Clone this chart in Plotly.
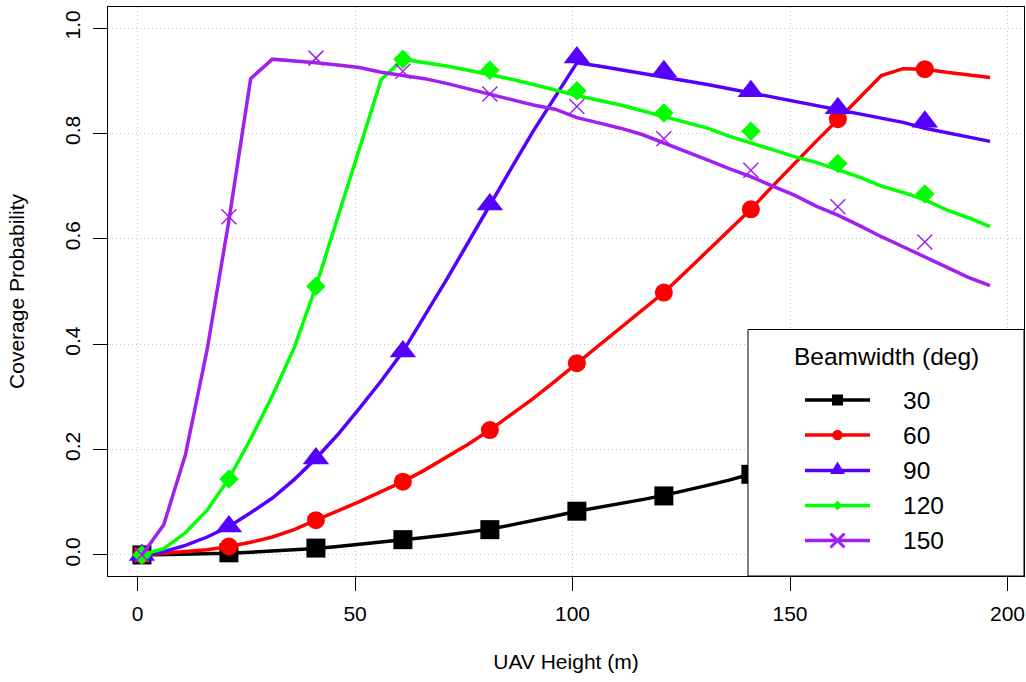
import plotly.graph_objects as go

# Heights (m) of the analytical curves and of the simulated points
height_line = [1, 6, 11, 16, 21, 26, 31, 36, 41, 46,
               51, 56, 61, 66, 71, 76, 81, 86, 91, 96,
               101, 106, 111, 116, 121, 126, 131, 136, 141, 146,
               151, 156, 161, 166, 171, 176, 181, 186, 191, 196]
height_pts = [1, 21, 41, 61, 81, 101, 121, 141, 161, 181]

# Analytical coverage probability per beamwidth
cov_30 = [0.000, 0.0005, 0.001, 0.002, 0.003, 0.005, 0.007, 0.009, 0.012, 0.016,
          0.020, 0.024, 0.029, 0.033, 0.038, 0.043, 0.049, 0.057, 0.065, 0.074,
          0.083, 0.090, 0.097, 0.105, 0.113, 0.122, 0.132, 0.142, 0.153, 0.165,
          0.177, 0.190, 0.203, 0.217, 0.231, 0.246, 0.261, 0.277, 0.293, 0.310]
cov_60 = [0.000, 0.003, 0.006, 0.010, 0.016, 0.024, 0.034, 0.048, 0.066, 0.083,
          0.101, 0.120, 0.139, 0.161, 0.185, 0.210, 0.237, 0.266, 0.297, 0.330,
          0.364, 0.396, 0.430, 0.464, 0.498, 0.537, 0.577, 0.616, 0.656, 0.700,
          0.743, 0.785, 0.826, 0.868, 0.910, 0.923, 0.922, 0.916, 0.911, 0.906]
cov_90 = [0.000, 0.006, 0.018, 0.034, 0.054, 0.080, 0.108, 0.143, 0.183, 0.228,
          0.278, 0.330, 0.386, 0.453, 0.522, 0.593, 0.665, 0.735, 0.805, 0.870,
          0.934, 0.928, 0.921, 0.915, 0.908, 0.900, 0.893, 0.885, 0.877, 0.869,
          0.862, 0.853, 0.845, 0.837, 0.829, 0.821, 0.810, 0.802, 0.794, 0.785]
cov_120 = [0.000, 0.012, 0.042, 0.085, 0.145, 0.220, 0.302, 0.393, 0.509, 0.640,
           0.771, 0.902, 0.941, 0.935, 0.928, 0.920, 0.912, 0.903, 0.893, 0.882,
           0.872, 0.863, 0.854, 0.843, 0.832, 0.821, 0.810, 0.795, 0.782, 0.768,
           0.756, 0.745, 0.731, 0.717, 0.700, 0.688, 0.674, 0.655, 0.640, 0.623]
cov_150 = [0.000, 0.057, 0.190, 0.390, 0.635, 0.904, 0.941, 0.938, 0.934, 0.930,
           0.925, 0.916, 0.910, 0.904, 0.895, 0.885, 0.874, 0.864, 0.854, 0.846,
           0.830, 0.820, 0.810, 0.798, 0.782, 0.767, 0.750, 0.733, 0.718, 0.700,
           0.683, 0.662, 0.645, 0.625, 0.604, 0.585, 0.566, 0.547, 0.527, 0.511]

# Simulated coverage probability per beamwidth
sim_30 = [0.000, 0.004, 0.013, 0.029, 0.048, 0.083, 0.112, 0.153, 0.200, 0.260]
sim_60 = [0.000, 0.016, 0.066, 0.139, 0.237, 0.364, 0.498, 0.656, 0.827, 0.922]
sim_90 = [0.000, 0.054, 0.183, 0.386, 0.665, 0.944, 0.918, 0.880, 0.848, 0.822]
sim_120 = [0.000, 0.144, 0.510, 0.941, 0.920, 0.881, 0.839, 0.804, 0.743, 0.685]
sim_150 = [0.000, 0.642, 0.943, 0.918, 0.875, 0.851, 0.790, 0.730, 0.661, 0.594]

beamwidths = ["30", "60", "90", "120", "150"]
x_ticks = [0, 50, 100, 150, 200]
y_ticks = [0.0, 0.2, 0.4, 0.6, 0.8, 1.0]
y_tick_text = ["0.0", "0.2", "0.4", "0.6", "0.8", "1.0"]

colors = ["#000000", "#FF0000", "#5500FF", "#00FF00", "#A020F0"]
curves = [cov_30, cov_60, cov_90, cov_120, cov_150]
points = [sim_30, sim_60, sim_90, sim_120, sim_150]
symbols = ["square", "circle", "triangle-up", "diamond", "x-thin-open"]
sizes = [19, 18, 23, 15, 15]

FONT = "Liberation Sans, Arial, Helvetica, sans-serif"
W, H = 1026, 682
ML, MR, MT, MB = 108, 2, 7, 106
PW, PH = W - ML - MR, H - MT - MB

fig = go.Figure()
for curve, pts, col, sym, sz in zip(curves, points, colors, symbols, sizes):
    fig.add_trace(go.Scatter(x=height_line, y=curve, mode="lines",
                             line=dict(color=col, width=3.5), showlegend=False,
                             hoverinfo="skip"))
    if sym == "x-thin-open":
        mk = dict(symbol=sym, size=sz, color=col, line=dict(color=col, width=1.5))
    else:
        mk = dict(symbol=sym, size=sz, color=col, line=dict(width=0))
    fig.add_trace(go.Scatter(x=height_pts, y=pts, mode="markers", marker=mk,
                             showlegend=False))


def px_x(px):
    return (px - ML) / PW


def px_y(py):
    return (H - MB - py) / PH


# Legend panel drawn on top of the curves
shapes = [dict(type="rect", xref="paper", yref="paper", layer="above",
               x0=px_x(748), x1=1.0, y0=0.0, y1=px_y(329.5),
               fillcolor="white", line=dict(color="black", width=1))]
annotations = [dict(xref="paper", yref="paper", x=px_x(886), y=px_y(356),
                    text="Beamwidth (deg)", showarrow=False, xanchor="center",
                    yanchor="middle", font=dict(family=FONT, size=24.5, color="black"))]

legend_rows = [400, 435, 470.5, 505.5, 540.5]
glyph_paths = [
    "M-5.5,-5.5 L5.5,-5.5 L5.5,5.5 L-5.5,5.5 Z",
    None,
    "M-7.5,-3.6 L7.5,-3.6 L0,9 Z",
    "M0,-5 L4.5,0 L0,5 L-4.5,0 Z",
    "M-7,-7 L7,7 M-7,7 L7,-7",
]
for row, col, label, path in zip(legend_rows, colors, beamwidths, glyph_paths):
    yy = px_y(row)
    shapes.append(dict(type="line", xref="paper", yref="paper", layer="above",
                       x0=px_x(805), x1=px_x(870), y0=yy, y1=yy,
                       line=dict(color=col, width=3.5)))
    xa = px_x(837.5)
    if path is None:
        shapes.append(dict(type="circle", xref="paper", yref="paper", layer="above",
                           xsizemode="pixel", ysizemode="pixel", xanchor=xa, yanchor=yy,
                           x0=-5.2, x1=5.2, y0=-5.2, y1=5.2,
                           fillcolor=col, line=dict(width=0)))
    elif label == "150":
        shapes.append(dict(type="path", xref="paper", yref="paper", layer="above",
                           xsizemode="pixel", ysizemode="pixel", xanchor=xa, yanchor=yy,
                           path=path, line=dict(color=col, width=3)))
    else:
        shapes.append(dict(type="path", xref="paper", yref="paper", layer="above",
                           xsizemode="pixel", ysizemode="pixel", xanchor=xa, yanchor=yy,
                           path=path, fillcolor=col, line=dict(width=0)))
    annotations.append(dict(xref="paper", yref="paper", x=px_x(901), y=yy,
                            text=label, showarrow=False, xanchor="left",
                            yanchor="middle",
                            font=dict(family=FONT, size=24.5, color="black")))

axis_common = dict(
    showline=True, mirror=True, linecolor="black", linewidth=1,
    ticks="outside", ticklen=14, tickwidth=1, tickcolor="black",
    showgrid=True, gridcolor="#c4c4c4", gridwidth=1, griddash="1px,3px",
    zeroline=False, tickfont=dict(family=FONT, size=21, color="black"),
)

fig.update_layout(
    width=W, height=H,
    margin=dict(l=ML, r=MR, t=MT, b=MB),
    paper_bgcolor="white", plot_bgcolor="white",
    showlegend=False,
    shapes=shapes, annotations=annotations,
    font=dict(family=FONT, color="black"),
    xaxis=dict(axis_common, range=[-6.8, 203.8], tickvals=x_ticks,
               ticklabelstandoff=5,
               title=dict(text="UAV Height (m)", standoff=30,
                          font=dict(family=FONT, size=21, color="black"))),
    yaxis=dict(axis_common, range=[-0.04, 1.04], tickvals=y_ticks,
               ticktext=y_tick_text, tickangle=-90, ticklabelstandoff=5,
               title=dict(text="Coverage Probability", standoff=30,
                          font=dict(family=FONT, size=21, color="black"))),
)

fig.write_html("out.html")
